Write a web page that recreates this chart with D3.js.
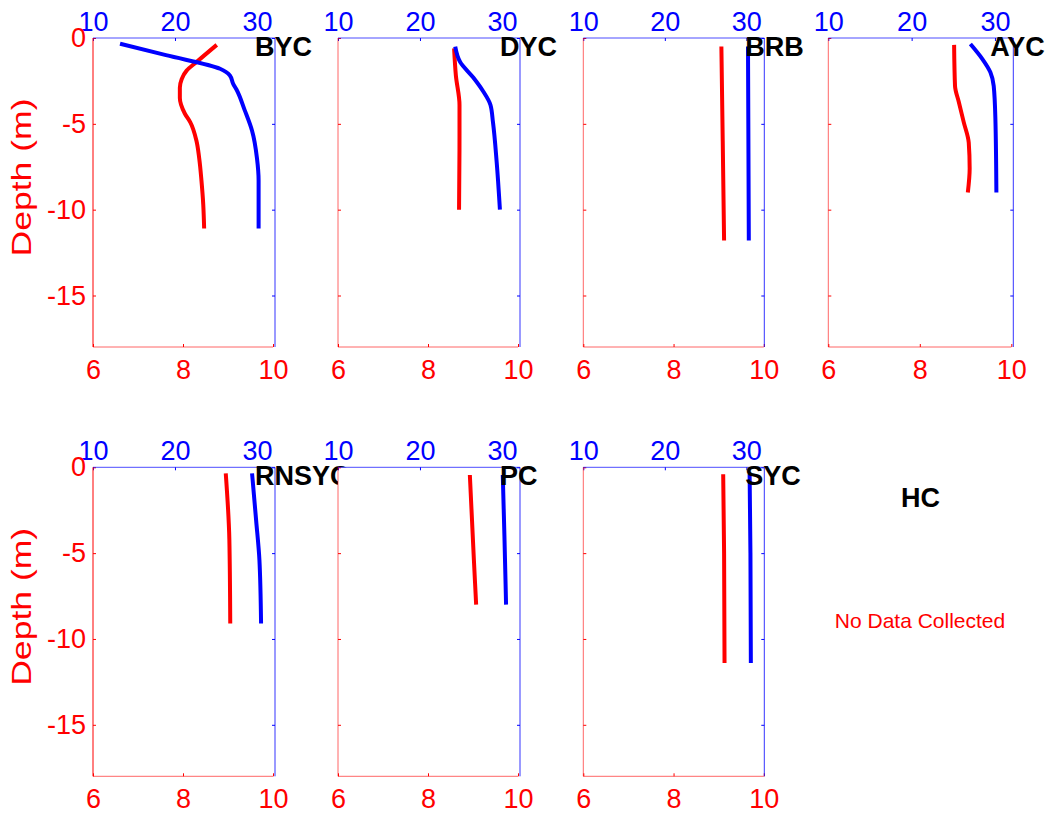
<!DOCTYPE html>
<html>
<head>
<meta charset="utf-8">
<script src="https://cdn.jsdelivr.net/npm/d3@7"></script>
<style>
  html, body { margin: 0; padding: 0; background: #fff; }
  svg { display: block; font-family: "Liberation Sans", Arial, sans-serif; }
</style>
</head>
<body>
<svg id="chart" width="1051" height="815"></svg>
<script>
// ---------- data ----------
const stations = ["BYC", "DYC", "BRB", "AYC", "RNSYC", "PC", "SYC"];
const emptyStation = "HC";
const emptyNote = "No Data Collected";

const redTicks = [6, 8, 10];
const blueTicks = [10, 20, 30];
const depthTicks = [0, -5, -10, -15];

// red profiles (bottom axis 6–10) : depth (m) and value
const bycRedDepth = [-0.4, -1.4, -1.9, -2.4, -2.9, -3.5, -4.4, -4.9, -6.0, -7.0, -8.3, -9.7, -11.1];
const bycRedValue = [8.75, 8.30, 8.08, 7.97, 7.93, 7.93, 8.04, 8.16, 8.30, 8.36, 8.41, 8.45, 8.47];
const dycRedDepth = [-0.6, -2.2, -3.9, -5.7, -10.0];
const dycRedValue = [8.58, 8.62, 8.70, 8.70, 8.69];
const brbRedDepth = [-0.5, -6.0, -11.8];
const brbRedValue = [9.06, 9.09, 9.12];
const aycRedDepth = [-0.4, -2.8, -3.7, -4.9, -6.1, -7.6, -9.0];
const aycRedValue = [8.75, 8.77, 8.85, 8.96, 9.07, 9.09, 9.05];
const rnsycRedDepth = [-0.35, -4.2, -9.1];
const rnsycRedValue = [8.95, 9.03, 9.05];
const pcRedDepth = [-0.45, -5.4, -8.0];
const pcRedValue = [8.93, 9.02, 9.07];
const sycRedDepth = [-0.4, -5.0, -11.4];
const sycRedValue = [9.10, 9.12, 9.13];

// blue profiles (top axis 10–30)
const bycBlueDepth = [-0.33, -1.0, -1.79, -2.18, -2.67, -3.0, -4.2, -5.4, -7.0, -8.3, -11.1];
const bycBlueValue = [13.3, 18.9, 25.5, 26.7, 27.1, 27.5, 28.5, 29.4, 30.0, 30.2, 30.2];
const dycBlueDepth = [-0.5, -1.4, -2.3, -3.1, -3.9, -4.9, -7.2, -10.0];
const dycBlueValue = [24.3, 24.9, 26.5, 27.7, 28.6, 28.9, 29.35, 29.75];
const brbBlueDepth = [-0.5, -6.0, -11.8];
const brbBlueValue = [30.2, 30.25, 30.3];
const aycBlueDepth = [-0.35, -1.2, -2.0, -2.8, -4.7, -9.0];
const aycBlueValue = [27.05, 28.45, 29.45, 29.85, 30.05, 30.17];
const rnsycBlueDepth = [-0.35, -3.1, -5.4, -9.1];
const rnsycBlueValue = [29.4, 29.9, 30.3, 30.5];
const pcBlueDepth = [-0.45, -4.0, -8.0];
const pcBlueValue = [30.1, 30.3, 30.5];
const sycBlueDepth = [-0.4, -5.0, -11.4];
const sycBlueValue = [30.4, 30.5, 30.55];

const redDepths = [bycRedDepth, dycRedDepth, brbRedDepth, aycRedDepth, rnsycRedDepth, pcRedDepth, sycRedDepth];
const redValues = [bycRedValue, dycRedValue, brbRedValue, aycRedValue, rnsycRedValue, pcRedValue, sycRedValue];
const blueDepths = [bycBlueDepth, dycBlueDepth, brbBlueDepth, aycBlueDepth, rnsycBlueDepth, pcBlueDepth, sycBlueDepth];
const blueValues = [bycBlueValue, dycBlueValue, brbBlueValue, aycBlueValue, rnsycBlueValue, pcBlueValue, sycBlueValue];

// ---------- layout ----------
const RED = "#ff0000", BLUE = "#0000ff";
const colLeft = [93, 338, 583.3, 828.3];
const redW = [180, 180, 180.5, 183];
const blueW = [182, 182, 181, 185];
const rowTop = [38, 467.3];
const panelH = 309;
const tickFont = 27;
const FONT = "Liberation Sans, Arial, sans-serif";

const svg = d3.select("#chart");
svg.append("rect").attr("width", 1051).attr("height", 815).attr("fill", "#fff");

stations.forEach((name, i) => {
  const r = Math.floor(i / 4), c = i % 4;
  const left = colLeft[c], top = rowTop[r];
  const xRed = d3.scaleLinear().domain([6, 10]).range([left, left + redW[c]]);
  const xBlue = d3.scaleLinear().domain([10, 32.2]).range([left, left + blueW[c]]);
  const y = d3.scaleLinear().domain([-18, 0]).range([top + panelH, top]);

  const g = svg.append("g");
  // axes background (covers earlier text)
  g.append("rect").attr("x", left).attr("y", top)
    .attr("width", blueW[c]).attr("height", panelH).attr("fill", "#fff");

  // curves
  const line = d3.line().curve(d3.curveMonotoneY);
  const redPts = redDepths[i].map((d, k) => [xRed(redValues[i][k]), y(d)]);
  const bluePts = blueDepths[i].map((d, k) => [xBlue(blueValues[i][k]), y(d)]);
  g.append("path").attr("d", line(redPts)).attr("fill", "none")
    .attr("stroke", RED).attr("stroke-width", 4).attr("stroke-linejoin", "round");
  g.append("path").attr("d", line(bluePts)).attr("fill", "none")
    .attr("stroke", BLUE).attr("stroke-width", 4).attr("stroke-linejoin", "round");

  // bottom red axis
  const ab = g.append("g").attr("transform", `translate(0,${top + panelH})`)
    .call(d3.axisBottom(xRed).tickValues(redTicks).tickFormat(d3.format("d"))
      .tickSizeInner(-3).tickSizeOuter(0).tickPadding(12.5));
  ab.select(".domain").remove();
  ab.selectAll("line").attr("stroke", RED);
  ab.selectAll("text").attr("fill", RED).attr("font-size", tickFont).attr("font-family", FONT);

  // top blue axis
  const at = g.append("g").attr("transform", `translate(0,${top})`)
    .call(d3.axisTop(xBlue).tickValues(blueTicks).tickFormat(d3.format("d"))
      .tickSizeInner(-3).tickSizeOuter(0).tickPadding(7.5));
  at.select(".domain").remove();
  at.selectAll("line").attr("stroke", BLUE);
  at.selectAll("text").attr("fill", BLUE).attr("font-size", tickFont).attr("font-family", FONT);

  // left red axis
  const al = g.append("g").attr("transform", `translate(${left},0)`)
    .call(d3.axisLeft(y).tickValues(depthTicks).tickSizeInner(-3).tickSizeOuter(0).tickPadding(7)
      .tickFormat(d => c === 0 ? (d === 0 ? "0" : "-" + Math.abs(d)) : ""));
  al.select(".domain").remove();
  al.selectAll("line").attr("stroke", RED);
  al.selectAll("text").attr("fill", RED).attr("font-size", tickFont).attr("font-family", FONT);

  // right blue axis
  const ar = g.append("g").attr("transform", `translate(${left + blueW[c]},0)`)
    .call(d3.axisRight(y).tickValues(depthTicks).tickSizeInner(-3).tickSizeOuter(0).tickFormat(() => ""));
  ar.select(".domain").remove();
  ar.selectAll("line").attr("stroke", BLUE);

  // box lines
  g.append("line").attr("x1", left).attr("x2", left).attr("y1", top).attr("y2", top + panelH)
    .attr("stroke", RED).attr("stroke-width", 1).attr("stroke-opacity", c === 0 ? 1 : 0.6);
  g.append("line").attr("x1", left).attr("x2", left + redW[c]).attr("y1", top + panelH).attr("y2", top + panelH)
    .attr("stroke", RED).attr("stroke-width", 1).attr("stroke-opacity", 0.6);
  g.append("line").attr("x1", left).attr("x2", left + blueW[c]).attr("y1", top).attr("y2", top)
    .attr("stroke", BLUE).attr("stroke-width", 1).attr("stroke-opacity", 0.7);
  g.append("line").attr("x1", left + blueW[c]).attr("x2", left + blueW[c]).attr("y1", top).attr("y2", top + panelH)
    .attr("stroke", BLUE).attr("stroke-width", 1).attr("stroke-opacity", 0.8);

  // station title
  g.append("text").attr("x", left + 162).attr("y", top + 17.5)
    .attr("font-size", 27).attr("font-weight", "bold").attr("fill", "#000")
    .attr("font-family", FONT)
    .text(name);

  // depth label
  if (c === 0) {
    g.append("text")
      .attr("transform", `translate(${31},${top + panelH / 2 - 15}) rotate(-90)`)
      .attr("text-anchor", "middle").attr("fill", RED).attr("font-size", 28)
      .attr("font-family", FONT)
      .attr("textLength", 158).attr("lengthAdjust", "spacingAndGlyphs")
      .text("Depth (m)");
  }
});

// empty station panel
svg.append("text").attr("x", 920.5).attr("y", 507).attr("text-anchor", "middle")
  .attr("font-size", 27).attr("font-weight", "bold").attr("fill", "#000").attr("font-family", FONT)
  .text(emptyStation);
svg.append("text").attr("x", 920).attr("y", 628).attr("text-anchor", "middle")
  .attr("font-size", 21).attr("fill", RED).attr("font-family", FONT).text(emptyNote);
</script>
</body>
</html>
